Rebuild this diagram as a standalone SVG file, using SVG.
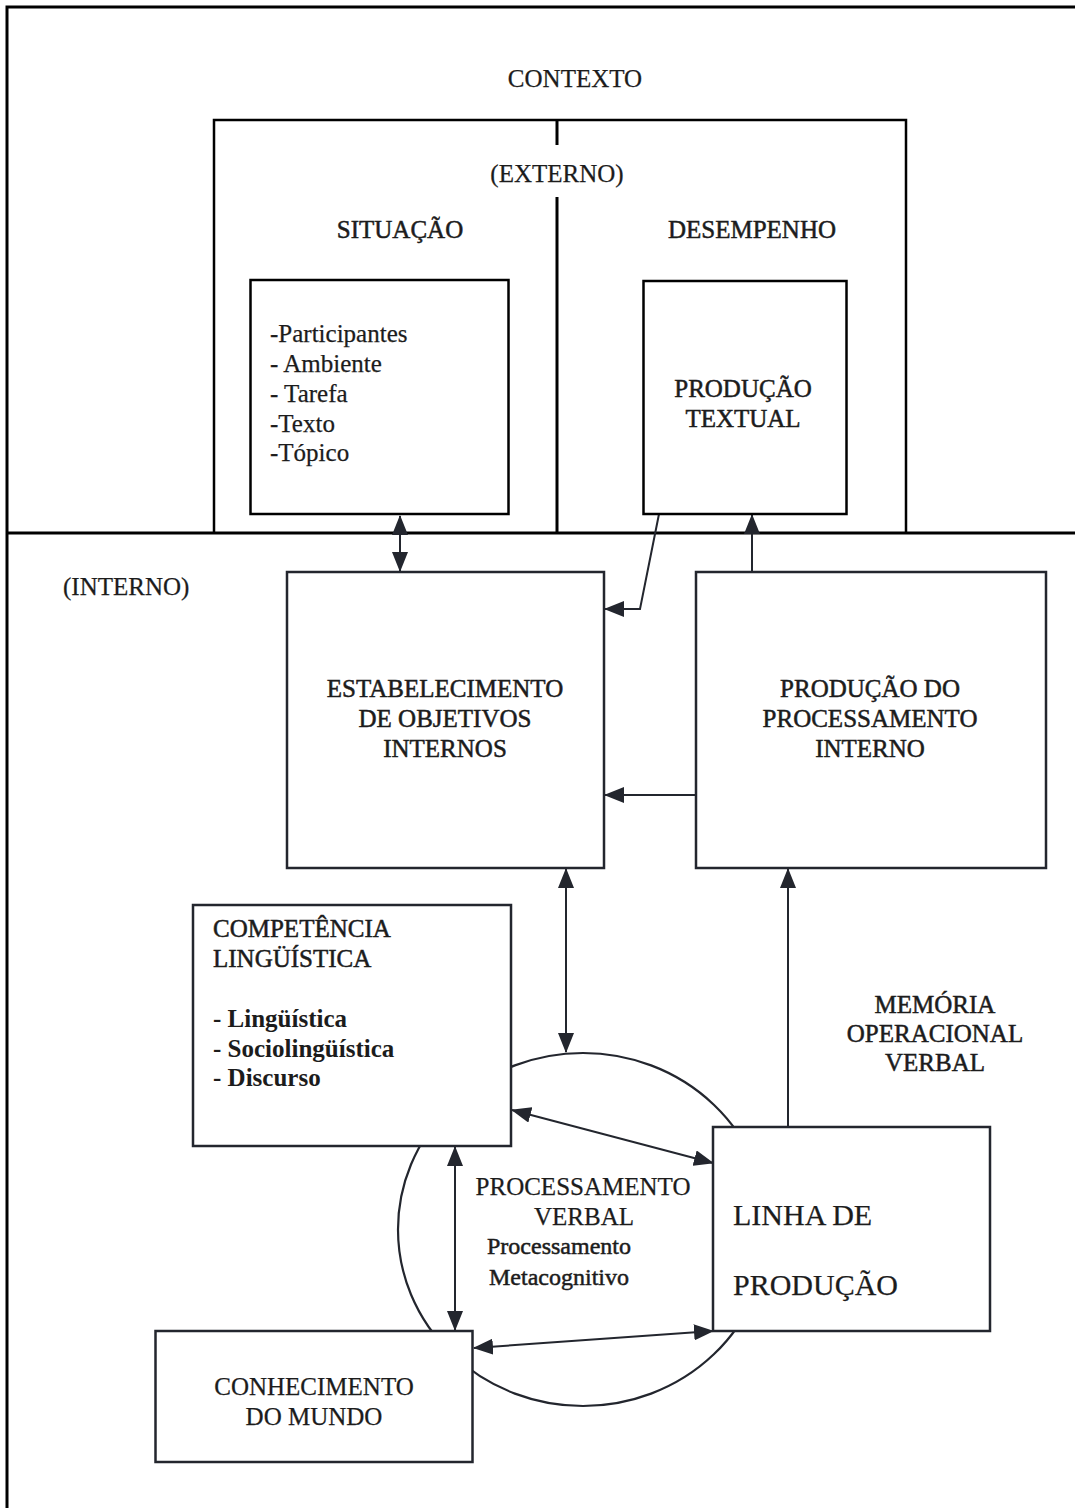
<svg xmlns="http://www.w3.org/2000/svg" width="1075" height="1508" viewBox="0 0 1075 1508">
  <style>
    text { font-family: "Liberation Serif", "Times New Roman", serif; font-size: 25px; fill: #1c1c1c; stroke: #1c1c1c; stroke-width: 0.25; }
    .c { text-anchor: middle; }
    .ink { stroke-width: 0.5; }
    .b { font-weight: bold; stroke-width: 0; }
    .frame { fill: none; stroke: #000; stroke-width: 3; }
    .box { fill: #fff; stroke: #000; stroke-width: 2.5; }
    .lbox { fill: #fff; stroke: #23262e; stroke-width: 2.5; }
    .conn { fill: none; stroke: #23262e; stroke-width: 2; }
    .arrow { marker-end: url(#ah); }
    .both { marker-start: url(#ah); marker-end: url(#ah); }
  </style>
  <defs>
    <marker id="ah" viewBox="0 0 20 16" refX="19" refY="8" markerWidth="20" markerHeight="16" markerUnits="userSpaceOnUse" orient="auto-start-reverse">
      <path d="M0,0 L20,8 L0,16 z" fill="#23262e"/>
    </marker>
  </defs>
  <rect width="1075" height="1508" fill="#fff"/>

  <!-- outer frame: top edge, left edge, external/internal divider -->
  <g id="frame">
    <path class="frame" d="M1075,7 H7 V1508"/>
    <path class="frame" d="M7,533 H1075"/>
    <text id="contexto" class="c" x="575" y="87">CONTEXTO</text>
    <text id="interno" x="63" y="595">(INTERNO)</text>
  </g>

  <!-- external context box with split -->
  <g id="externo">
    <path fill="none" stroke="#000" stroke-width="2.5" d="M214,533 V120 H906 V533"/>
    <path fill="none" stroke="#000" stroke-width="3" d="M557,120 V145 M557,197 V533"/>
    <text class="c" x="557" y="182">(EXTERNO)</text>
    <text class="c ink" x="400" y="238">SITUAÇÃO</text>
    <text class="c ink" x="752" y="238">DESEMPENHO</text>
  </g>

  <!-- ellipse behind the lower boxes -->
  <g id="processamento-verbal">
    <ellipse cx="583" cy="1229.5" rx="185" ry="176.5" fill="none" stroke="#23262e" stroke-width="2.2"/>
  </g>

  <!-- connectors -->
  <g id="connectors">
    <path class="conn both" d="M400,516 V571"/>
    <path class="conn arrow" d="M659,514 L640,609 H605"/>
    <path class="conn arrow" d="M752,571 V515"/>
    <path class="conn arrow" d="M696,795 H605"/>
    <path class="conn arrow" d="M788,1127 V869"/>
    <path class="conn both" d="M566,869 V1052"/>
    <path class="conn both" d="M512,1110 L713,1163"/>
    <path class="conn both" d="M455,1147 V1330"/>
    <path class="conn both" d="M474,1348 L713,1331"/>
  </g>

  <g id="situacao">
    <rect class="box" x="250.5" y="280" width="258" height="234"/>
    <text x="270" y="342">-Participantes</text>
    <text x="270" y="372">- Ambiente</text>
    <text x="270" y="402">- Tarefa</text>
    <text x="270" y="432">-Texto</text>
    <text x="270" y="461">-Tópico</text>
  </g>

  <g id="producao-textual">
    <rect class="box" x="643.5" y="281" width="203" height="233"/>
    <text class="c ink" x="743" y="397">PRODUÇÃO</text>
    <text class="c ink" x="743" y="427">TEXTUAL</text>
  </g>

  <g id="estabelecimento">
    <rect class="lbox" x="287" y="572" width="317" height="296"/>
    <text class="c ink" x="445" y="697">ESTABELECIMENTO</text>
    <text class="c ink" x="445" y="727">DE OBJETIVOS</text>
    <text class="c ink" x="445" y="757">INTERNOS</text>
  </g>

  <g id="producao-processamento">
    <rect class="lbox" x="696" y="572" width="350" height="296"/>
    <text class="c ink" x="870" y="697">PRODUÇÃO DO</text>
    <text class="c ink" x="870" y="727">PROCESSAMENTO</text>
    <text class="c ink" x="870" y="757">INTERNO</text>
  </g>

  <g id="competencia">
    <rect class="lbox" x="193" y="905" width="318" height="241"/>
    <text class="ink" x="213" y="937">COMPETÊNCIA</text>
    <text class="ink" x="213" y="967">LINGÜÍSTICA</text>
    <text class="b" x="213" y="1027">- Lingüística</text>
    <text class="b" x="213" y="1057">- Sociolingüística</text>
    <text class="b" x="213" y="1086">- Discurso</text>
  </g>

  <g id="memoria">
    <text class="c ink" x="935" y="1013">MEMÓRIA</text>
    <text class="c ink" x="935" y="1042">OPERACIONAL</text>
    <text class="c ink" x="935" y="1071">VERBAL</text>
  </g>

  <g id="processamento-labels">
    <text class="c" x="583" y="1195">PROCESSAMENTO</text>
    <text class="c" x="584" y="1225">VERBAL</text>
    <text class="c ink" x="559" y="1254" style="font-size:24px">Processamento</text>
    <text class="c ink" x="559" y="1285" style="font-size:24px">Metacognitivo</text>
  </g>

  <g id="linha-producao">
    <rect class="lbox" x="713" y="1127" width="277" height="204"/>
    <text x="733" y="1225" style="font-size:30px">LINHA DE</text>
    <text x="733" y="1295" style="font-size:30px">PRODUÇÃO</text>
  </g>

  <g id="conhecimento">
    <rect class="lbox" x="155.5" y="1331" width="317" height="131"/>
    <text class="c" x="314" y="1395">CONHECIMENTO</text>
    <text class="c" x="314" y="1425">DO MUNDO</text>
  </g>
</svg>
